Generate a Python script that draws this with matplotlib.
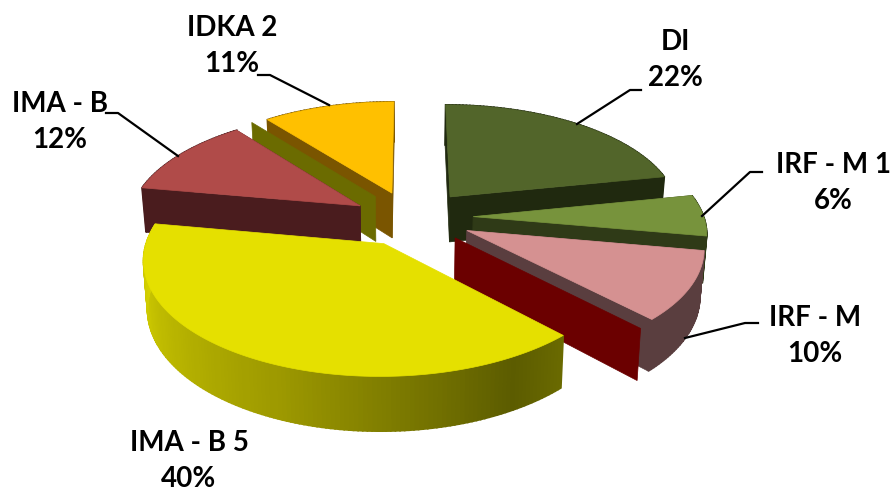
import numpy as np
import matplotlib
matplotlib.use('Agg')
import matplotlib.pyplot as plt
from matplotlib.colors import to_rgb
from matplotlib.patches import Polygon

categories = ['DI', 'IRF - M 1', 'IRF - M', 'IMA - B 5', 'IMA - B', 'IDKA 2']
values = [21.8, 6.0, 10.0, 40.0, 11.6, 10.6]

# slice styling, same order as categories
explode = [0.233, 0.27, 0.30, 0.28, 0.22, 0.22]
nudge = [(7, 1), (1, 2), (-5, 0), (5, 1), (-7, 3), (-2, 0)]
top_colors = ['#52652a', '#77933c', '#d59191', '#e5e000', '#b04b49', '#ffc000']
wall_colors = ['#20290f', '#2f3a17', '#5a3e3f', '#6a6a00', '#4a1c1e', '#7a5500']

# pie geometry, in pixels
CX, CY = 410, 215
RX, RY = 230, 108
K = 0.127
DEPTH = 46

# where each label sits and how its leader line runs
label_pos = [(675, 60), (833, 183), (815, 336), (189, 461), (60, 122), (232, 46)]
leaders = [
    [(577, 124), (630, 90), (641, 90)],
    [(702, 216), (750, 172), (762, 172)],
    [(685, 338), (745, 323), (758, 323)],
    None,
    [(178, 156), (118, 113), (106, 113)],
    [(329, 105), (270, 75), (258, 75)],
]


def project(u, v, low=False):
    w = 1 + K * v
    x = RX * u / w
    y = -RY * v / w
    if low:
        return CX + x * 0.985, CY + y + DEPTH / w
    return CX + x, CY + y


def rim(th):
    return np.sin(np.radians(th)), np.cos(np.radians(th))


def cut_face(ax, center, th, color, z):
    u, v = rim(th)
    pts = [project(*center), project(center[0] + u, center[1] + v),
           project(center[0] + u, center[1] + v, True), project(*center, True)]
    ax.add_patch(Polygon(pts, fc=color, ec=color, lw=0.5, zorder=z))


def outer_wall(ax, center, t0, t1, color, z, stops=None):
    angles = np.linspace(t0, t1, int(t1 - t0) + 2)
    for a, b in zip(angles[:-1], angles[1:]):
        ua, va = rim(a)
        ub, vb = rim(b)
        pa = (center[0] + ua, center[1] + va)
        pb = (center[0] + ub, center[1] + vb)
        c = color
        if stops is not None:
            f = (a - t0) / (t1 - t0)
            xs = [s[0] for s in stops]
            rgb = [to_rgb(s[1]) for s in stops]
            c = tuple(np.interp(f, xs, [r[i] for r in rgb]) for i in range(3))
        pts = [project(*pa), project(*pb), project(*pb, True), project(*pa, True)]
        ax.add_patch(Polygon(pts, fc=c, ec=c, lw=1.2, zorder=z))


def top_face(ax, center, t0, t1, color, z):
    pts = [project(*center)]
    for a in np.linspace(t0, t1, 120):
        u, v = rim(a)
        pts.append(project(center[0] + u, center[1] + v))
    ax.add_patch(Polygon(pts, fc=color, ec=color, lw=0.5, zorder=z))


plt.rcParams['font.family'] = ['Lato', 'DejaVu Sans']
fig = plt.figure(figsize=(8.94, 4.91), dpi=100)
ax = fig.add_axes([0, 0, 1, 1])
ax.set_xlim(0, 894)
ax.set_ylim(491, 0)
ax.axis('off')

edges = np.concatenate([[0], np.cumsum(values)]) / np.sum(values) * 360
mids = (edges[:-1] + edges[1:]) / 2
centers = [(e * rim(m)[0] + n[0] / RX, e * rim(m)[1] - n[1] / RY)
           for e, m, n in zip(explode, mids, nudge)]

# back to front: IDKA 2, DI, IMA - B, IRF - M 1, IRF - M, IMA - B 5
order = [5, 0, 4, 1, 2, 3]
yellow_stops = [(0, '#6a6a00'), (0.1, '#5c5c00'), (0.45, '#9c9800'),
                (0.8, '#c8c400'), (1, '#dcd800')]
for z, i in enumerate(order):
    base = z * 10 + 1
    t0, t1 = edges[i], edges[i + 1]
    stops = yellow_stops if i == 3 else None
    outer_wall(ax, centers[i], t0, t1, wall_colors[i], base, stops)
    if i != 3:
        cut_face(ax, centers[i], t0, wall_colors[i], base + 1)
        cut_face(ax, centers[i], t1, wall_colors[i], base + 1)
    if i == 4:
        # olive face showing behind IMA - B
        c = (centers[i][0] + 0.065, centers[i][1] + 0.09)
        cut_face(ax, c, t1, '#6b6b00', base - 1)
    if i == 2:
        # dark red face in front of IRF - M
        c = (centers[i][0] - 0.052, centers[i][1] - 0.065)
        cut_face(ax, c, t1, '#6b0000', base + 2)
    top_face(ax, centers[i], t0, t1, top_colors[i], base + 3 if i != 2 else base + 1.5)

for name, val, pos, line in zip(categories, values, label_pos, leaders):
    ax.text(pos[0], pos[1], f'{name}\n{round(val)}%', ha='center', va='center',
            fontsize=20, fontweight='bold', color='black', linespacing=1.45, zorder=100)
    if line:
        ax.plot(*zip(*line), color='black', lw=1.6, zorder=90)

fig.savefig('out.png', dpi=100)
plt.close(fig)
